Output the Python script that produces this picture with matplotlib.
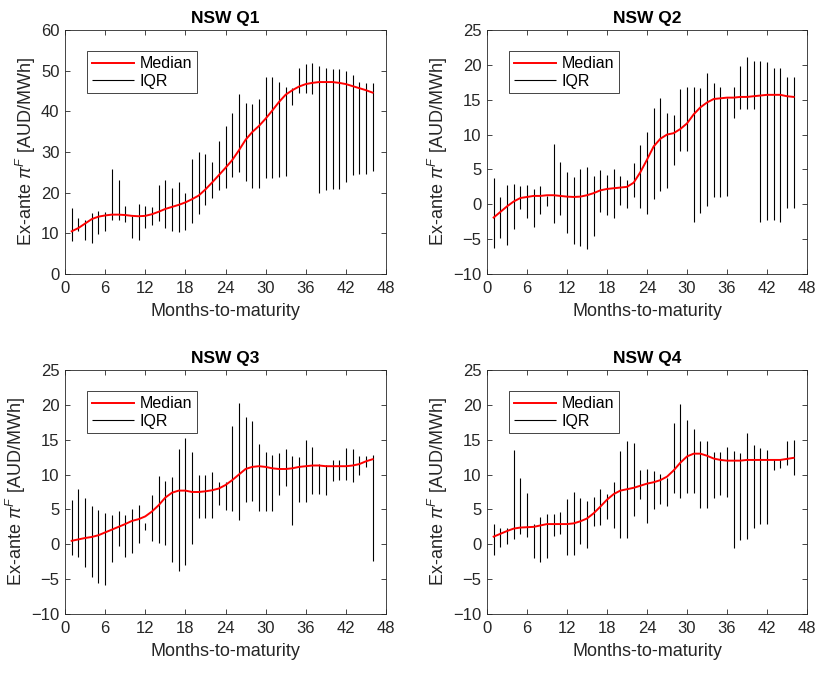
import matplotlib
matplotlib.use("Agg")
import matplotlib.pyplot as plt
import numpy as np

plt.rcParams['font.family'] = ['Liberation Sans', 'DejaVu Sans']
plt.rcParams['mathtext.fontset'] = 'custom'
plt.rcParams['mathtext.it'] = 'Liberation Sans:italic'
plt.rcParams['mathtext.rm'] = 'Liberation Sans'

months = np.arange(1, 47)

# NSW Q1
med1 = [10.5, 11.3, 12.4, 13.5, 14.1, 14.4, 14.6, 14.6, 14.5, 14.3, 14.2, 14.3, 14.7, 15.3,
        16.0, 16.5, 17.0, 17.6, 18.4, 19.3, 20.8, 22.5, 24.3, 26.1, 28.0, 30.4, 33.0, 34.9,
        36.4, 38.2, 40.2, 42.3, 44.1, 45.2, 46.1, 46.7, 47.0, 47.2, 47.2, 47.2, 47.0, 46.7,
        46.2, 45.7, 45.2, 44.6]
lo1 = [8.0, 10.6, 8.4, 7.7, 9.8, 10.6, 13.3, 13.4, 12.8, 8.9, 8.4, 11.4, 12.0, 13.0, 11.4,
       10.6, 10.4, 10.7, 12.6, 14.8, 17.0, 18.7, 20.7, 21.1, 23.9, 25.1, 22.9, 21.2, 21.2,
       23.6, 23.6, 23.9, 24.1, 41.6, 44.6, 44.4, 44.2, 20.0, 20.7, 21.0, 21.0, 22.6, 24.3,
       24.6, 24.6, 25.3]
hi1 = [16.3, 13.8, 13.2, 15.0, 15.4, 15.2, 25.7, 23.0, 16.6, 14.2, 17.1, 16.6, 16.5, 22.0,
       23.0, 21.1, 22.6, 19.8, 28.2, 29.9, 29.4, 27.6, 32.6, 36.4, 39.7, 44.3, 42.1, 41.9,
       43.0, 48.4, 48.4, 47.3, 46.1, 45.7, 50.7, 51.7, 51.9, 51.2, 50.6, 50.5, 50.5, 49.8,
       48.9, 47.2, 47.0, 47.0]

# NSW Q2
med2 = [-1.9, -1.1, -0.3, 0.4, 0.9, 1.05, 1.2, 1.2, 1.3, 1.3, 1.2, 1.1, 1.05, 1.1, 1.3, 1.6,
        2.0, 2.2, 2.3, 2.4, 2.5, 3.1, 4.6, 6.4, 8.3, 9.4, 10.0, 10.2, 10.8, 11.6, 12.9, 13.9,
        14.6, 15.1, 15.2, 15.3, 15.3, 15.4, 15.4, 15.5, 15.6, 15.7, 15.7, 15.7, 15.5, 15.4]
lo2 = [-6.2, -4.9, -5.9, -3.5, -0.7, -2.0, -3.2, -1.4, -0.3, -2.7, -1.5, -4.1, -5.7, -6.0,
       -6.4, -4.6, -1.1, -1.6, -2.0, -0.1, -0.6, 1.1, -0.6, -1.4, 0.7, 1.9, 2.4, 5.7, 7.7,
       7.7, -2.6, -1.3, -0.3, 1.1, 1.1, 1.2, 12.4, 13.6, 13.6, 13.6, -2.6, -2.2, -2.2, -2.6,
       -0.6, -0.6]
hi2 = [3.7, 1.0, 2.7, 2.9, 2.6, 2.8, 2.2, 2.6, 1.2, 8.6, 6.0, 4.6, 3.9, 5.1, 5.3, 4.0, 4.9,
       4.2, 5.0, 4.1, 3.5, 5.9, 8.5, 10.4, 13.8, 15.2, 13.1, 12.8, 16.6, 16.8, 16.8, 16.7,
       18.9, 17.4, 16.8, 15.2, 16.8, 19.8, 21.1, 20.5, 20.5, 20.4, 19.6, 19.6, 18.2, 18.2]

# NSW Q3
med3 = [0.5, 0.7, 0.9, 1.05, 1.3, 1.7, 2.1, 2.5, 2.9, 3.35, 3.6, 4.0, 4.7, 5.6, 6.7, 7.4,
        7.7, 7.7, 7.5, 7.5, 7.6, 7.75, 8.0, 8.5, 9.2, 10.0, 10.8, 11.1, 11.2, 11.1, 10.9,
        10.8, 10.8, 10.9, 11.1, 11.2, 11.3, 11.3, 11.2, 11.2, 11.2, 11.2, 11.3, 11.5, 11.9,
        12.2]
lo3 = [-1.6, -1.8, -3.2, -4.7, -5.5, -5.9, -2.5, -0.2, -1.8, -1.3, 0.2, 2.0, 0.5, 0.2, -0.1,
       -2.5, -3.9, -3.0, 0.05, 3.8, 3.8, 3.8, 5.7, 4.9, 4.8, 3.5, 6.1, 6.2, 4.8, 4.8, 4.8,
       7.1, 8.3, 2.7, 6.1, 6.1, 7.2, 7.2, 7.0, 9.1, 9.2, 9.2, 8.9, 10.0, 11.1, -2.4]
hi3 = [6.4, 8.0, 6.6, 5.5, 4.9, 4.5, 4.2, 4.8, 4.2, 5.1, 5.6, 3.1, 7.1, 9.8, 9.1, 9.7, 13.7,
       15.3, 13.2, 10.0, 10.0, 10.4, 9.0, 9.0, 16.9, 20.2, 18.2, 17.7, 14.4, 13.2, 12.8,
       13.1, 13.7, 12.7, 12.5, 15.0, 13.9, 11.5, 11.4, 12.1, 12.1, 13.8, 13.6, 12.7, 12.7,
       12.8]

# NSW Q4
med4 = [1.1, 1.5, 1.9, 2.25, 2.4, 2.45, 2.5, 2.7, 2.9, 2.9, 2.9, 2.9, 3.0, 3.3, 3.7, 4.45,
        5.4, 6.4, 7.2, 7.7, 7.9, 8.1, 8.4, 8.7, 8.9, 9.2, 9.7, 10.6, 11.7, 12.6, 13.0, 13.0,
        12.7, 12.3, 12.1, 12.0, 12.0, 12.0, 12.1, 12.1, 12.1, 12.1, 12.1, 12.1, 12.25, 12.4]
lo4 = [-1.5, -0.4, 0.05, 0.7, 1.5, 1.1, -1.9, -2.5, -1.9, 1.2, 1.5, -1.5, -1.5, 0.1, -0.6,
       2.6, 2.7, 3.6, 2.4, 0.9, 0.9, 4.1, 6.5, 3.0, 5.1, 5.8, 5.5, 7.3, 6.6, 7.3, 7.3, 5.2,
       5.2, 6.7, 7.0, 6.8, -0.6, 0.6, 0.8, 2.3, 2.9, 2.9, 10.7, 10.9, 11.4, 9.9]
hi4 = [2.9, 2.4, 2.4, 13.5, 9.5, 7.3, 2.9, 3.9, 4.35, 4.4, 4.7, 6.5, 7.5, 6.6, 6.2, 6.8, 8.0,
       7.2, 8.9, 13.4, 14.8, 14.6, 10.7, 10.8, 10.5, 10.1, 9.5, 17.4, 20.1, 17.8, 16.5, 14.8,
       14.8, 13.2, 13.2, 13.9, 13.4, 13.1, 15.9, 14.3, 13.8, 13.5, 12.2, 12.2, 14.8, 15.0]

titles = ["NSW Q1", "NSW Q2", "NSW Q3", "NSW Q4"]
meds = [med1, med2, med3, med4]
los = [lo1, lo2, lo3, lo4]
his = [hi1, hi2, hi3, hi4]
ylims = [(0, 60), (-10, 25), (-10, 25), (-10, 25)]
yticks = [np.arange(0, 61, 10), np.arange(-10, 26, 5), np.arange(-10, 26, 5), np.arange(-10, 26, 5)]

W, H = 818, 673
fig = plt.figure(figsize=(W / 100, H / 100), dpi=100)
boxes = [(65, 30, 386, 274), (487, 30, 807, 274), (65, 370, 386, 614), (487, 370, 807, 614)]
axcol = '#262626'

for i in range(4):
    x0, y0, x1, y1 = boxes[i]
    ax = fig.add_axes([x0 / W, 1 - y1 / H, (x1 - x0) / W, (y1 - y0) / H])
    ax.vlines(months, los[i], his[i], color='black', linewidth=0.8, label='IQR', zorder=2)
    ax.plot(months, meds[i], color='red', linewidth=1.4, label='Median', zorder=3)
    ax.set_xlim(0, 48)
    ax.set_ylim(*ylims[i])
    ax.set_xticks(np.arange(0, 49, 6))
    ax.set_yticks(yticks[i])
    ax.tick_params(direction='in', top=True, right=True, length=3.5, width=0.6,
                   colors=axcol, labelsize=12, labelcolor=axcol)
    ax.tick_params(axis='y', pad=4)
    ax.tick_params(axis='x', pad=5)
    for s in ax.spines.values():
        s.set_linewidth(0.6)
        s.set_color(axcol)
    ax.set_title(titles[i], fontsize=12.5, fontweight='bold', pad=5)
    ax.set_xlabel("Months-to-maturity", fontsize=13, color=axcol, labelpad=5)
    ax.set_ylabel(r"Ex-ante $\pi^F$ [AUD/MWh]", fontsize=13, color=axcol, labelpad=2)
    h, l = ax.get_legend_handles_labels()
    leg = ax.legend(h[::-1], l[::-1], loc='upper left', bbox_to_anchor=(0.045, 0.945),
                    fontsize=11.5, handlelength=2.6, fancybox=False, framealpha=1,
                    edgecolor=axcol, borderpad=0.3, labelspacing=0.15, handletextpad=0.35)
    leg.get_frame().set_linewidth(0.6)

fig.savefig("out.png", dpi=100)
